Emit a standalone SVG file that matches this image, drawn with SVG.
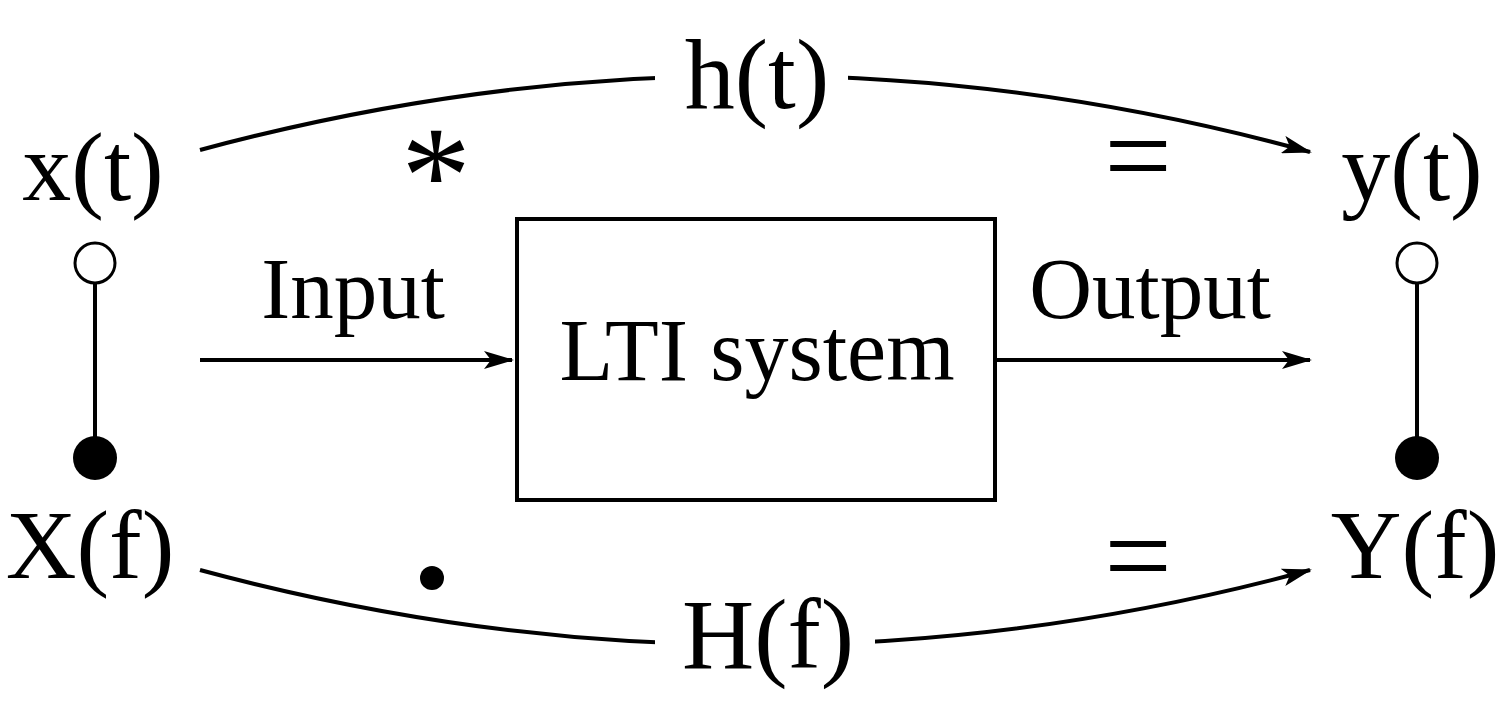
<svg xmlns="http://www.w3.org/2000/svg" width="1512" height="705" viewBox="0 0 1512 705">
<defs>
<style>
text{font-family:"Liberation Serif","Times New Roman",serif;fill:#000;text-anchor:middle}
.big{font-size:98px}
.mid{font-size:87px}
.ln{stroke:#000;stroke-width:4;fill:none}
</style>
<marker id="ah" viewBox="0 0 30 18" refX="28" refY="9" markerWidth="30" markerHeight="18" markerUnits="userSpaceOnUse" orient="auto"><path d="M0,0 L30,9 L0,18 L7,9 Z" fill="#000"/></marker>
</defs>
<rect width="1512" height="705" fill="#fff"/>
<g id="connectors">
<path class="ln" d="M200,150 Q757,0 1310,152" marker-end="url(#ah)"/>
<path class="ln" d="M200,570 Q757,720 1310,570" marker-end="url(#ah)"/>
<rect x="655" y="40" width="193" height="90" fill="#fff"/>
<rect x="655" y="590" width="220" height="100" fill="#fff"/>
<path class="ln" d="M200,360 L512,360" marker-end="url(#ah)"/>
<path class="ln" d="M995,360 L1310,360" marker-end="url(#ah)"/>
<path class="ln" d="M95,283 L95,437"/>
<path class="ln" d="M1417,283 L1417,437"/>
</g>
<g id="h"><text class="big" x="757" y="108" style="font-size:100px">h(t)</text></g>
<g id="H"><text class="big" x="768" y="668" style="font-size:100px">H(f)</text></g>
<g id="x"><text class="big" x="93" y="200">x(t)</text>
<circle cx="95" cy="263" r="20" fill="#fff" stroke="#000" stroke-width="3"/>
<circle cx="95" cy="458" r="22" fill="#000"/>
<text class="big" x="90" y="578">X(f)</text></g>
<g id="y"><text class="big" x="1412" y="200">y(t)</text>
<circle cx="1417" cy="263" r="20" fill="#fff" stroke="#000" stroke-width="3"/>
<circle cx="1417" cy="458" r="22" fill="#000"/>
<text class="big" x="1415" y="578">Y(f)</text></g>
<g id="lti"><rect x="517" y="219" width="478" height="281" fill="#fff" stroke="#000" stroke-width="4"/>
<text class="big" x="757" y="380" style="font-size:88px">LTI system</text></g>
<g id="labels">
<text class="mid" x="353" y="318">Input</text>
<text class="mid" x="1150" y="318">Output</text>
<text x="436" y="222" style="font-size:140px">*</text>
<text x="1138" y="196" style="font-size:120px">=</text>
<text x="1138" y="596" style="font-size:120px">=</text>
<circle cx="432" cy="578" r="12" fill="#000"/>
</g>
</svg>
